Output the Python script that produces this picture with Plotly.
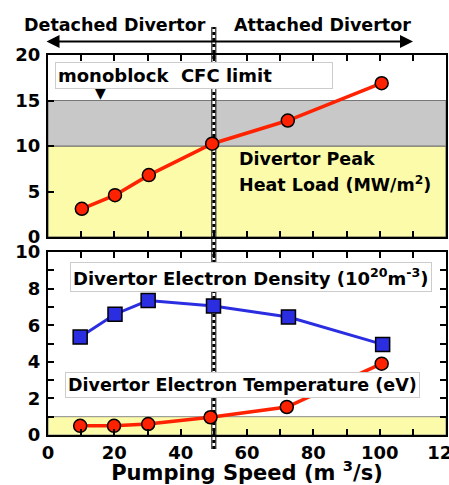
import plotly.graph_objects as go

# ---------------- data ----------------
speed_heat = [10.2, 20.2, 30.4, 49.5, 72.3, 100.6]
heat_load = [3.1, 4.6, 6.8, 10.25, 12.8, 16.9]

speed_ne = [9.7, 20.2, 30.2, 49.9, 72.5, 100.9]
density = [5.35, 6.6, 7.35, 7.05, 6.45, 4.95]

speed_te = [9.7, 19.9, 30.2, 49.0, 72.0, 100.6]
temperature = [0.5, 0.5, 0.6, 0.97, 1.53, 3.9]

heat_allow_lo = [0, 10]        # yellow band (allowed heat load)
heat_cfc_band = [10, 15]       # grey band (monoblock - CFC limit)
te_band = [0, 1]               # yellow band for Te
boundary_speed = 50            # detached / attached boundary

x_ticks = [0, 20, 40, 60, 80, 100, 120]
y1_ticks = [0, 5, 10, 15, 20]
y2_ticks = [0, 2, 4, 6, 8, 10]

# ---------------- layout helpers ----------------
W, H = 449, 485
ML, MR, MT, MB = 48, 3, 55, 50
PW, PH = W - ML - MR, H - MT - MB


def X(px):
    return (px - ML) / PW


def Y(py):
    return (H - MB - py) / PH


FONT = "DejaVu Sans"
RED = "#ff2200"
BLUE = "#2a2ee0"
YELLOW = "#fbfbaa"
GREY = "#c8c8c8"

fig = go.Figure()

fig.add_trace(go.Scatter(
    x=speed_heat, y=heat_load, mode="lines+markers", xaxis="x", yaxis="y",
    line=dict(color=RED, width=3.5),
    marker=dict(symbol="circle", size=13, color=RED, line=dict(color="black", width=1.5)),
    showlegend=False, cliponaxis=False))

fig.add_trace(go.Scatter(
    x=speed_ne, y=density, mode="lines+markers", xaxis="x2", yaxis="y2",
    line=dict(color=BLUE, width=3),
    marker=dict(symbol="square", size=14, color=BLUE, line=dict(color="black", width=1.5)),
    showlegend=False, cliponaxis=False))

fig.add_trace(go.Scatter(
    x=speed_te, y=temperature, mode="lines+markers", xaxis="x2", yaxis="y2",
    line=dict(color=RED, width=3.5),
    marker=dict(symbol="circle", size=13, color=RED, line=dict(color="black", width=1.5)),
    showlegend=False, cliponaxis=False))

# bands (paper x so they live in the shared lower layer, ordered)
fig.add_shape(type="rect", xref="paper", yref="y", x0=0, x1=1,
              y0=heat_allow_lo[0], y1=heat_allow_lo[1], fillcolor=YELLOW,
              line=dict(color="#555555", width=1), layer="below")
fig.add_shape(type="rect", xref="paper", yref="y", x0=0, x1=1,
              y0=heat_cfc_band[0], y1=heat_cfc_band[1], fillcolor=GREY,
              line=dict(color="#777777", width=1), layer="below")
fig.add_shape(type="rect", xref="paper", yref="y2", x0=0, x1=1,
              y0=te_band[0], y1=te_band[1], fillcolor=YELLOW,
              line=dict(color="#888888", width=1), layer="below")

# hatched boundary line
for col, wid, dash in [("black", 5, "solid"), ("white", 3, "solid"), ("black", 3, "3px,3px")]:
    fig.add_shape(type="line", xref="x", yref="paper",
                  x0=boundary_speed, x1=boundary_speed, y0=Y(449), y1=Y(27),
                  line=dict(color=col, width=wid, dash=dash), layer="below")

axis_common = dict(
    showline=True, linecolor="black", linewidth=2, mirror="ticks",
    ticks="inside", ticklen=6, tickwidth=2, tickcolor="black",
    showgrid=False, zeroline=False, automargin=False,
    tickfont=dict(family=FONT, size=18, color="black", weight="bold"),
)

fig.update_layout(
    width=W, height=H,
    margin=dict(l=ML, r=MR, t=MT, b=MB, autoexpand=False),
    paper_bgcolor="white", plot_bgcolor="rgba(0,0,0,0)",
    showlegend=False,
    xaxis=dict(axis_common, domain=[0, 1], anchor="y", range=[0, 120],
               tickmode="linear", tick0=0, dtick=10, showticklabels=False),
    yaxis=dict(axis_common, domain=[Y(237), 1], anchor="x", range=[0, 20],
               tickvals=y1_ticks, mirror=True, ticklabelstandoff=2),
    xaxis2=dict(axis_common, domain=[0, 1], anchor="y2", range=[0, 120],
                tickvals=x_ticks, ticklabeloverflow="allow",
                minor=dict(dtick=10, ticks="inside", ticklen=6, tickwidth=2, tickcolor="black"),
                title=dict(text="Pumping Speed (m <sup>3</sup>/s)", standoff=6,
                           font=dict(family=FONT, size=21, color="black", weight="bold"))),
    yaxis2=dict(axis_common, domain=[0, Y(252)], anchor="x2", range=[0, 10],
                tickvals=y2_ticks, ticklabelstandoff=2,
                minor=dict(dtick=1, ticks="inside", ticklen=6, tickwidth=2, tickcolor="black")),
)

lbl = dict(family=FONT, color="black", weight="bold")

ann = [
    dict(text="Detached Divertor", x=X(115), y=Y(25), font=dict(lbl, size=17.5),
         xanchor="center", yanchor="middle"),
    dict(text="Attached Divertor", x=X(322), y=Y(24.5), font=dict(lbl, size=17.5),
         xanchor="center", yanchor="middle"),
    dict(text="", x=X(413), y=Y(41.5), ax=-368, ay=0, showarrow=True,
         arrowside="end+start", arrowhead=2, arrowsize=1.3, arrowwidth=2,
         arrowcolor="black", standoff=0, startstandoff=0),
    dict(text="monoblock  CFC limit", x=X(55), y=Y(75), font=dict(lbl, size=18),
         xanchor="left", yanchor="middle", align="left", width=272,
         bgcolor="white", bordercolor="#cccccc", borderwidth=1, borderpad=2),
    dict(text="▼", x=X(100), y=Y(93), font=dict(family=FONT, size=14, color="black"),
         xanchor="center", yanchor="middle"),
    dict(text="Divertor Peak", x=X(237), y=Y(158.5), font=dict(lbl, size=17.5),
         xanchor="left", yanchor="middle", align="left"),
    dict(text="Heat Load (MW/m<sup>2</sup>)", x=X(237), y=Y(184), font=dict(lbl, size=17.5),
         xanchor="left", yanchor="middle", align="left"),
    dict(text="Divertor Electron Density (10<sup>20</sup>m<sup>-3</sup>)", x=X(70), y=Y(276.5),
         font=dict(lbl, size=18), xanchor="left", yanchor="middle", align="left",
         bgcolor="white", bordercolor="#cccccc", borderwidth=1, borderpad=2),
    dict(text="Divertor Electron Temperature (eV)", x=X(65), y=Y(384.5),
         font=dict(lbl, size=17.5), xanchor="left", yanchor="middle", align="left",
         bgcolor="white", bordercolor="#cccccc", borderwidth=1, borderpad=2),
]
for a in ann:
    a.setdefault("xref", "paper")
    a.setdefault("yref", "paper")
    a.setdefault("showarrow", False)
    fig.add_annotation(**a)

fig.write_html("out.html")
